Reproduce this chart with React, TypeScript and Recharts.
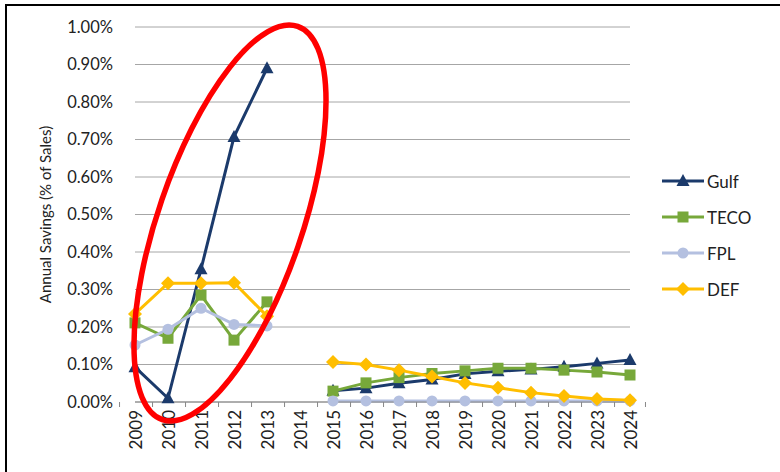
import React from 'react';
import { LineChart, Line, XAxis, YAxis, CartesianGrid, Legend } from 'recharts';

// values, in % of sales (2014 has no data)
const years = ['2009', '2010', '2011', '2012', '2013', '2014', '2015', '2016', '2017', '2018', '2019', '2020', '2021', '2022', '2023', '2024'];
const gulf = [0.093, 0.01, 0.354, 0.707, 0.89, null, 0.03, 0.037, 0.05, 0.06, 0.075, 0.082, 0.087, 0.094, 0.103, 0.112];
const teco = [0.211, 0.17, 0.285, 0.165, 0.267, null, 0.029, 0.051, 0.065, 0.076, 0.083, 0.09, 0.09, 0.085, 0.08, 0.072];
const fpl = [0.152, 0.194, 0.25, 0.207, 0.203, null, 0.003, 0.003, 0.003, 0.003, 0.003, 0.003, 0.003, 0.003, 0.003, 0.003];
const def = [0.235, 0.317, 0.317, 0.318, 0.229, null, 0.107, 0.1, 0.085, 0.068, 0.051, 0.038, 0.025, 0.016, 0.008, 0.005];
const yTicks = [0, 0.1, 0.2, 0.3, 0.4, 0.5, 0.6, 0.7, 0.8, 0.9, 1.0];

const series = [
  { key: 'Gulf', values: gulf, color: '#1B3A6B', shape: 'triangle' },
  { key: 'TECO', values: teco, color: '#77A83A', shape: 'square' },
  { key: 'FPL', values: fpl, color: '#B4C0E0', shape: 'circle' },
  { key: 'DEF', values: def, color: '#FFBE00', shape: 'diamond' },
];

const data = years.map((year, i) => {
  const row: any = { year };
  series.forEach((s) => { row[s.key] = s.values[i]; });
  return row;
});

const W = 780;
const H = 472;
const margin = { top: 27, right: 150, bottom: 10, left: 20 };
const Y_W = 115;
const X_H = 60;
const PLOT_W = W - margin.left - margin.right - Y_W;
const BAND = PLOT_W / years.length;
const FONT = 'Lato, "Open Sans", sans-serif';
const TEXT = '#222';

function Marker({ shape, cx, cy, color }: any) {
  if (shape === 'triangle') {
    return <path d={`M${cx},${cy - 7}L${cx + 6.5},${cy + 5}L${cx - 6.5},${cy + 5}Z`} fill={color} />;
  }
  if (shape === 'square') {
    return <rect x={cx - 5.5} y={cy - 5.5} width={11} height={11} fill={color} />;
  }
  if (shape === 'circle') {
    return <circle cx={cx} cy={cy} r={5.5} fill={color} />;
  }
  return <path d={`M${cx},${cy - 7}L${cx + 7},${cy}L${cx},${cy + 7}L${cx - 7},${cy}Z`} fill={color} />;
}

function YearTick(props: any) {
  const { x, y, payload, index } = props;
  const last = index === years.length - 1;
  return (
    <g>
      <line x1={x - BAND / 2} x2={x - BAND / 2} y1={y} y2={y + 5} stroke="#888" />
      {last && <line x1={x + BAND / 2} x2={x + BAND / 2} y1={y} y2={y + 5} stroke="#888" />}
      <text
        x={0}
        y={0}
        transform={`translate(${x},${y + 8}) rotate(-90)`}
        textAnchor="end"
        dominantBaseline="central"
        fontFamily={FONT}
        fontSize={17}
        fill={TEXT}
      >
        {payload.value}
      </text>
    </g>
  );
}

function YTitle(props: any) {
  const { viewBox } = props;
  const x = viewBox.x + 25;
  const y = viewBox.y + viewBox.height / 2;
  return (
    <text x={x} y={y} transform={`rotate(-90 ${x} ${y})`} textAnchor="middle" dominantBaseline="central"
      fontFamily={FONT} fontSize={15} fill={TEXT}>
      Annual Savings (% of Sales)
    </text>
  );
}

function LegendBox() {
  return (
    <div style={{ fontFamily: FONT, fontSize: 17, color: TEXT }}>
      {series.map((s) => (
        <div key={s.key} style={{ display: 'flex', alignItems: 'center', height: 36 }}>
          <svg width={46} height={16} style={{ display: 'block' }}>
            <line x1={2} x2={44} y1={8} y2={8} stroke={s.color} strokeWidth={3} />
            <Marker shape={s.shape} cx={23} cy={8} color={s.color} />
          </svg>
          <span style={{ marginLeft: 1 }}>{s.key}</span>
        </div>
      ))}
    </div>
  );
}

export default function App() {
  return (
    <div style={{ position: 'absolute', left: 0, top: 0, width: W, height: H, overflow: 'hidden', background: '#fff' }}>
      <div style={{ position: 'absolute', left: 5, top: 4, width: W + 20, height: H + 20, borderTop: '2px solid #000', borderLeft: '2px solid #000' }} />
      <LineChart width={W} height={H} data={data} margin={margin}>
        <CartesianGrid vertical={false} stroke="#a6a6a6" />
        <XAxis
          dataKey="year"
          height={X_H}
          interval={0}
          axisLine={{ stroke: '#888' }}
          tickLine={false}
          tickSize={0}
          tickMargin={0}
          tick={<YearTick />}
        />
        <YAxis
          width={Y_W}
          domain={[0, 1]}
          ticks={yTicks}
          axisLine={false}
          tickLine={false}
          tickMargin={16}
          tickFormatter={(v: number) => v.toFixed(2) + '%'}
          tick={{ fontFamily: FONT, fontSize: 16.5, fill: TEXT }}
          label={<YTitle />}
        />
        <Legend
          layout="horizontal"
          verticalAlign="middle"
          align="center"
          wrapperStyle={{ left: 660, top: 163, width: 115 }}
          content={<LegendBox />}
        />
        {series.map((s) => (
          <Line
            key={s.key}
            dataKey={s.key}
            name={s.key}
            stroke={s.color}
            strokeWidth={3}
            isAnimationActive={false}
            connectNulls={false}
            dot={(p: any) =>
              p.cx == null || p.cy == null || p.value == null ? (
                <g key={`${s.key}-${p.index}`} />
              ) : (
                <Marker key={`${s.key}-${p.index}`} shape={s.shape} cx={p.cx} cy={p.cy} color={s.color} />
              )
            }
            activeDot={false}
          />
        ))}
      </LineChart>
      <svg width={W} height={H} style={{ position: 'absolute', left: 0, top: 0, pointerEvents: 'none' }}>
        <ellipse cx={230} cy={223} rx={72} ry={208} transform="rotate(19 230 223)" fill="none" stroke="#ff0000" strokeWidth={5.5} />
      </svg>
    </div>
  );
}
